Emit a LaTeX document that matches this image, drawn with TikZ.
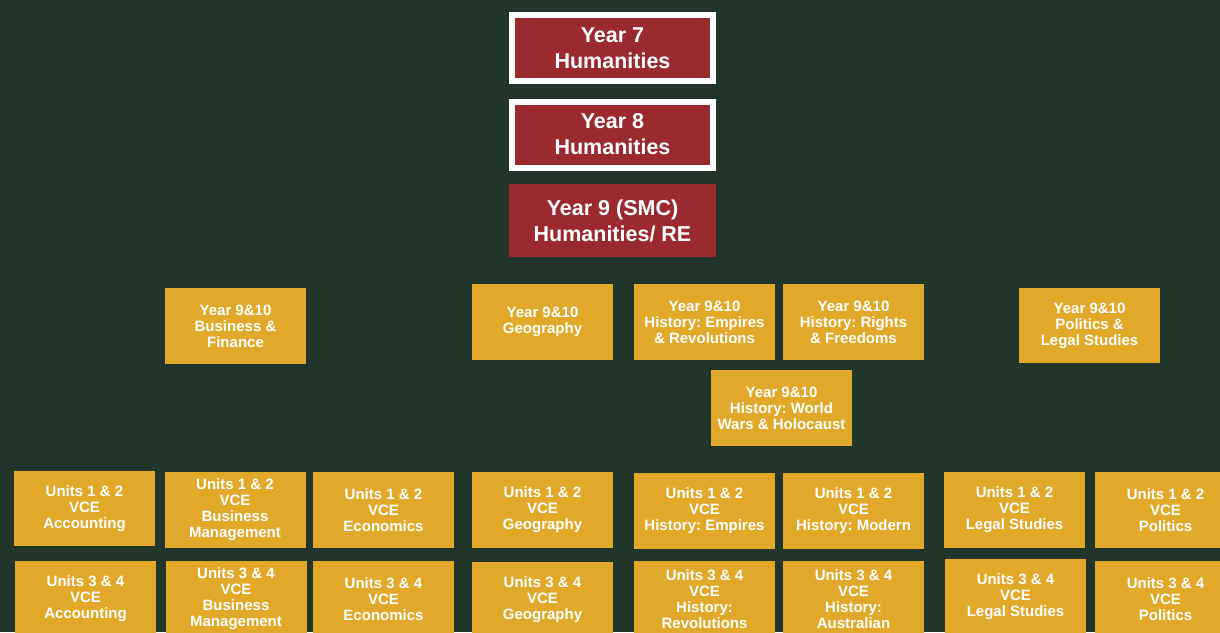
\documentclass[tikz,border=0pt]{standalone}
\usepackage{fontspec}
\setmainfont{Liberation Sans}
\frenchspacing
\definecolor{bgcol}{RGB}{33,53,42}
\definecolor{redcol}{RGB}{155,42,46}
\definecolor{goldcol}{RGB}{226,168,41}
\tikzset{
  redbox/.style={fill=redcol, text=white, align=center, inner sep=0pt,
    minimum width=207pt, minimum height=73pt,
    font=\fontsize{21.5}{26}\selectfont\bfseries},
  framedbox/.style={redbox, draw=white, line width=6pt,
    minimum width=201pt, minimum height=66pt},
  goldbox/.style={fill=goldcol, text=white, align=center, inner sep=0pt,
    minimum width=141pt, minimum height=76pt,
    font=\fontsize{15}{16}\selectfont\bfseries}
}
\begin{document}
\begin{tikzpicture}[x=1pt,y=-1pt]
  \useasboundingbox (0,0) rectangle (1220,632);
  \fill[bgcol] (0,0) rectangle (1220,632);

  %% years 7 to 9
  \node[framedbox] (yseven) at (612.5,48) {Year 7\\Humanities};
  \node[framedbox] (yeight) at (612.5,134.5) {Year 8\\Humanities};
  \node[redbox] (ynine) at (612.5,220.5) {Year 9 (SMC)\\Humanities/ RE};

  %% year 9&10 electives
  \node[goldbox] (bizfin) at (235.5,326) {Year 9\&10\\Business \&\\Finance};
  \node[goldbox] (geoten) at (542.5,322) {Year 9\&10\\Geography};
  \node[goldbox] (empires) at (704.5,322) {Year 9\&10\\History: Empires\\\& Revolutions};
  \node[goldbox] (rights) at (853.5,322) {Year 9\&10\\History: Rights\\\& Freedoms};
  \node[goldbox] (wars) at (781.5,408) {Year 9\&10\\History: World\\Wars \& Holocaust};
  \node[goldbox, minimum height=75pt] (polten) at (1089.5,325.5) {Year 9\&10\\Politics \&\\Legal Studies};

  %% units 1 & 2
  \node[goldbox, minimum height=75pt] (accone) at (84.5,508.5) {Units 1 \& 2\\VCE\\Accounting};
  \node[goldbox] (bmone) at (235,510) {Units 1 \& 2\\VCE\\Business\\Management};
  \node[goldbox] (ecoone) at (383.5,510) {Units 1 \& 2\\VCE\\Economics};
  \node[goldbox] (geoone) at (542.5,510) {Units 1 \& 2\\VCE\\Geography};
  \node[goldbox] (empone) at (704.5,511) {Units 1 \& 2\\VCE\\History: Empires};
  \node[goldbox] (modone) at (853.5,511) {Units 1 \& 2\\VCE\\History: Modern};
  \node[goldbox] (legone) at (1014.5,510) {Units 1 \& 2\\VCE\\Legal Studies};
  \node[goldbox] (polone) at (1165.5,510) {Units 1 \& 2\\VCE\\Politics};

  %% units 3 & 4
  \node[goldbox] (accthree) at (85.5,599) {Units 3 \& 4\\VCE\\Accounting};
  \node[goldbox] (bmthree) at (236,599) {Units 3 \& 4\\VCE\\Business\\Management};
  \node[goldbox] (ecothree) at (383.5,599) {Units 3 \& 4\\VCE\\Economics};
  \node[goldbox] (geothree) at (542.5,600) {Units 3 \& 4\\VCE\\Geography};
  \node[goldbox] (revthree) at (704.5,599) {Units 3 \& 4\\VCE\\History:\\Revolutions};
  \node[goldbox] (austhree) at (853.5,599) {Units 3 \& 4\\VCE\\History:\\Australian};
  \node[goldbox] (legthree) at (1015.5,597) {Units 3 \& 4\\VCE\\Legal Studies};
  \node[goldbox] (polthree) at (1165.5,599) {Units 3 \& 4\\VCE\\Politics};

\end{tikzpicture}
\end{document}
